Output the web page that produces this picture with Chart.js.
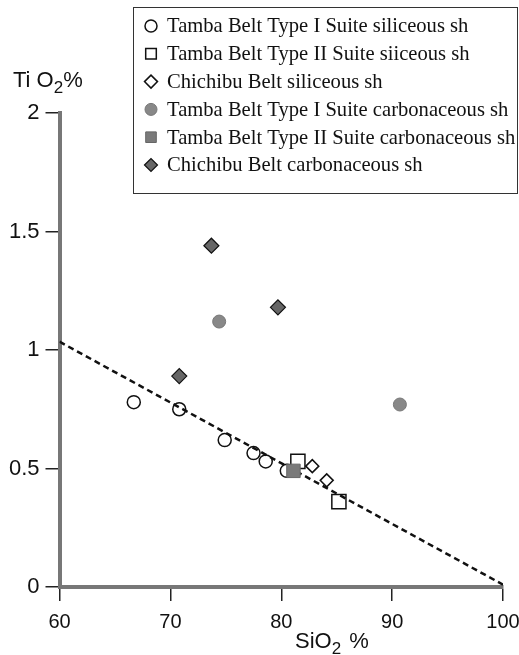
<!DOCTYPE html>
<html>
<head>
<meta charset="utf-8">
<script src="https://cdn.jsdelivr.net/npm/chart.js@4/dist/chart.umd.min.js"></script>
<style>
  html, body { margin: 0; padding: 0; background: #fff; }
  #wrap { width: 519px; height: 655px; position: relative; }
</style>
</head>
<body>
<div id="wrap"><canvas id="chSilica"></canvas></div>
<script>
// SiO2 % vs TiO2 % values
var t1SilX = [66.7, 70.8, 74.9, 77.5, 78.6, 80.5];
var t1SilY = [0.78, 0.75, 0.62, 0.565, 0.53, 0.49];
var t2SilX = [81.5, 85.2];
var t2SilY = [0.53, 0.36];
var chSilX = [82.8, 84.1];
var chSilY = [0.51, 0.45];
var t1CarbX = [74.4, 90.7];
var t1CarbY = [1.12, 0.77];
var t2CarbX = [81.1];
var t2CarbY = [0.49];
var chCarbX = [70.8, 73.7, 79.7];
var chCarbY = [0.89, 1.44, 1.18];
var trendX = [60, 100];
var trendY = [1.035, 0.01];

var xTicks = [60, 70, 80, 90, 100];
var yTicks = [0, 0.5, 1, 1.5, 2];

var labels = [
  'Tamba Belt Type I Suite siliceous sh',
  'Tamba Belt Type II Suite siiceous sh',
  'Chichibu Belt siliceous sh',
  'Tamba Belt Type I Suite carbonaceous sh',
  'Tamba Belt Type II Suite carbonaceous sh',
  'Chichibu Belt carbonaceous sh'
];

function pts(xs, ys) {
  return xs.map(function (x, i) { return { x: x, y: ys[i] }; });
}

var datasets = [
  { label: labels[0], data: pts(t1SilX, t1SilY), pointStyle: 'circle', pointRadius: 6.5,
    backgroundColor: '#fff', borderColor: '#111', borderWidth: 1.5, order: 2 },
  { label: labels[1], data: pts(t2SilX, t2SilY), pointStyle: 'rect', pointRadius: 10,
    backgroundColor: '#fff', borderColor: '#111', borderWidth: 1.5, order: 2 },
  { label: labels[2], data: pts(chSilX, chSilY), pointStyle: 'rectRot', pointRadius: 6.5,
    backgroundColor: '#fff', borderColor: '#111', borderWidth: 1.5, order: 2 },
  { label: labels[3], data: pts(t1CarbX, t1CarbY), pointStyle: 'circle', pointRadius: 6.5,
    backgroundColor: '#888', borderColor: '#777', borderWidth: 1, order: 0 },
  { label: labels[4], data: pts(t2CarbX, t2CarbY), pointStyle: 'rect', pointRadius: 9.5,
    backgroundColor: '#7a7a7a', borderColor: '#666', borderWidth: 1, order: 0 },
  { label: labels[5], data: pts(chCarbX, chCarbY), pointStyle: 'rectRot', pointRadius: 7.5,
    backgroundColor: '#666', borderColor: '#111', borderWidth: 1.2, order: 0 },
  { type: 'line', label: 'trend', data: pts(trendX, trendY), borderColor: '#111',
    borderWidth: 2.5, borderDash: [6, 4], pointRadius: 0, fill: false, order: 1 }
];

// legend box + axis titles drawn by hand (subscripts, serif legend font)
var extras = {
  id: 'extras',
  afterDraw: function (chart) {
    var ctx = chart.ctx;
    ctx.save();
    // legend
    ctx.fillStyle = '#fff';
    ctx.fillRect(133.5, 7.5, 384, 186);
    ctx.strokeStyle = '#333';
    ctx.lineWidth = 1;
    ctx.strokeRect(133.5, 7.5, 384, 186);
    ctx.font = '20.6px "Liberation Serif", "Times New Roman", serif';
    ctx.textBaseline = 'middle';
    for (var i = 0; i < 6; i++) {
      var ds = chart.data.datasets[i];
      var y = 26 + i * 27.8;
      ctx.fillStyle = ds.backgroundColor;
      ctx.strokeStyle = ds.borderColor;
      ctx.lineWidth = ds.borderWidth;
      var r = ds.pointStyle === 'rect' ? 7.5 : (ds.pointStyle === 'rectRot' ? 6.5 : 6);
      Chart.helpers.drawPoint(ctx, { pointStyle: ds.pointStyle, radius: r, rotation: 0, borderWidth: ds.borderWidth }, 151, y);
      ctx.fillStyle = '#111';
      ctx.fillText(ds.label, 167, y + 1);
    }
    // axis titles
    ctx.fillStyle = '#111';
    ctx.textBaseline = 'alphabetic';
    ctx.font = '22px "Liberation Sans", Arial, sans-serif';
    ctx.fillText('Ti O', 13, 87);
    var w = ctx.measureText('Ti O').width;
    ctx.font = '17px "Liberation Sans", Arial, sans-serif';
    ctx.fillText('2', 13 + w, 93);
    var w2 = ctx.measureText('2').width;
    ctx.font = '22px "Liberation Sans", Arial, sans-serif';
    ctx.fillText('%', 13 + w + w2, 87);

    ctx.fillText('SiO', 295, 648);
    w = ctx.measureText('SiO').width;
    ctx.font = '17px "Liberation Sans", Arial, sans-serif';
    ctx.fillText('2', 295 + w, 654);
    w2 = ctx.measureText('2').width;
    ctx.font = '22px "Liberation Sans", Arial, sans-serif';
    ctx.fillText('%', 295 + w + w2 + 8, 648);
    ctx.restore();
  }
};

var tickFont = { family: '"Liberation Sans", Arial, sans-serif', size: 22 };
var xTickFont = { family: '"Liberation Sans", Arial, sans-serif', size: 20 };

new Chart(document.getElementById('chSilica'), {
  type: 'scatter',
  data: { datasets: datasets },
  options: {
    responsive: true,
    maintainAspectRatio: false,
    animation: false,
    layout: { padding: { top: 113, right: 16, left: 0, bottom: 0 } },
    plugins: { legend: { display: false }, tooltip: { enabled: false } },
    scales: {
      x: {
        type: 'linear', min: 60, max: 100,
        afterBuildTicks: function (s) { s.ticks = xTicks.map(function (v) { return { value: v }; }); },
        afterFit: function (s) { s.height = 68; s.paddingLeft = 0; s.paddingRight = 0; },
        border: { display: true, color: '#777', width: 4 },
        grid: { display: true, drawOnChartArea: false, drawTicks: true, tickLength: 14, color: '#222', lineWidth: 1.5 },
        ticks: { font: xTickFont, color: '#111', padding: 9, maxRotation: 0,
                 callback: function (v) { return String(v); } }
      },
      y: {
        type: 'linear', min: 0, max: 2,
        afterBuildTicks: function (s) { s.ticks = yTicks.map(function (v) { return { value: v }; }); },
        afterFit: function (s) { s.width = 59.5; s.paddingTop = 0; s.paddingBottom = 0; },
        border: { display: true, color: '#777', width: 4 },
        grid: { display: true, drawOnChartArea: false, drawTicks: true, tickLength: 14, color: '#222', lineWidth: 1.5 },
        ticks: { font: tickFont, color: '#111', padding: 6,
                 callback: function (v) { return String(v); } }
      }
    }
  },
  plugins: [extras]
});
</script>
</body>
</html>
